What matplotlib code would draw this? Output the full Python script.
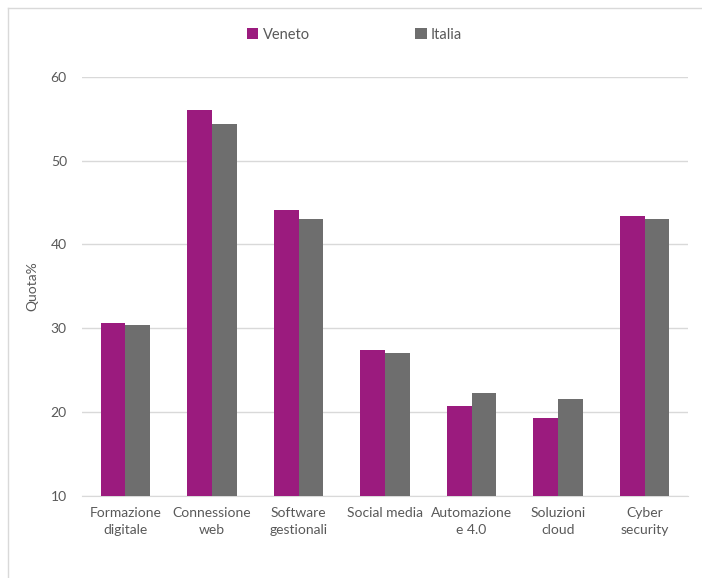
import numpy as np
import matplotlib
matplotlib.use("Agg")
import matplotlib.pyplot as plt
from matplotlib.lines import Line2D

categorie = ["Formazione\ndigitale", "Connessione\nweb", "Software\ngestionali",
             "Social media", "Automazione\ne 4.0", "Soluzioni\ncloud", "Cyber\nsecurity"]
veneto = [30.6, 56.0, 44.1, 27.4, 20.7, 19.3, 43.4]
italia = [30.4, 54.4, 43.0, 27.0, 22.3, 21.6, 43.0]
col_veneto = "#9b1b7e"
col_italia = "#6e6e6e"
testo = "#595959"

plt.rcParams["font.family"] = ["Lato", "DejaVu Sans"]

fig = plt.figure(figsize=(7.02, 5.78), dpi=100)
ax = fig.add_axes([0.117, 0.142, 0.863, 0.725])

# bordo del riquadro (solo sopra e a sinistra, come nel ritaglio originale)
fig.lines.append(Line2D([0.012, 1.0], [0.986, 0.986], transform=fig.transFigure,
                        color="#d9d9d9", linewidth=1))
fig.lines.append(Line2D([0.012, 0.012], [0.0, 0.986], transform=fig.transFigure,
                        color="#d9d9d9", linewidth=1))

x = np.arange(len(categorie))
w = 0.285
ax.bar(x - w / 2, veneto, w, color=col_veneto, label="Veneto", zorder=3)
ax.bar(x + w / 2, italia, w, color=col_italia, label="Italia", zorder=3)

ax.set_xlim(-0.5, len(categorie) - 0.5)
ax.set_ylim(10, 60)
ax.set_yticks([10, 20, 30, 40, 50, 60])
ax.set_xticks(x)
ax.set_xticklabels(categorie, fontsize=10, color=testo, linespacing=1.5)
ax.tick_params(axis="y", labelsize=10, labelcolor=testo, length=0, pad=11)
ax.tick_params(axis="x", length=0, pad=8)
ax.yaxis.grid(True, color="#d9d9d9", linewidth=1, zorder=0)
for s in ["top", "right", "left"]:
    ax.spines[s].set_visible(False)
ax.spines["bottom"].set_color("#d9d9d9")
ax.set_ylabel("Quota%", fontsize=10, color=testo, labelpad=9)

leg = fig.legend(loc="center", bbox_to_anchor=(0.505, 0.94), ncol=2, frameon=False,
                 fontsize=10.5, handlelength=0.8, handleheight=0.8, handletextpad=0.3,
                 columnspacing=7.2)
for t in leg.get_texts():
    t.set_color(testo)

fig.savefig("out.png", dpi=100)
